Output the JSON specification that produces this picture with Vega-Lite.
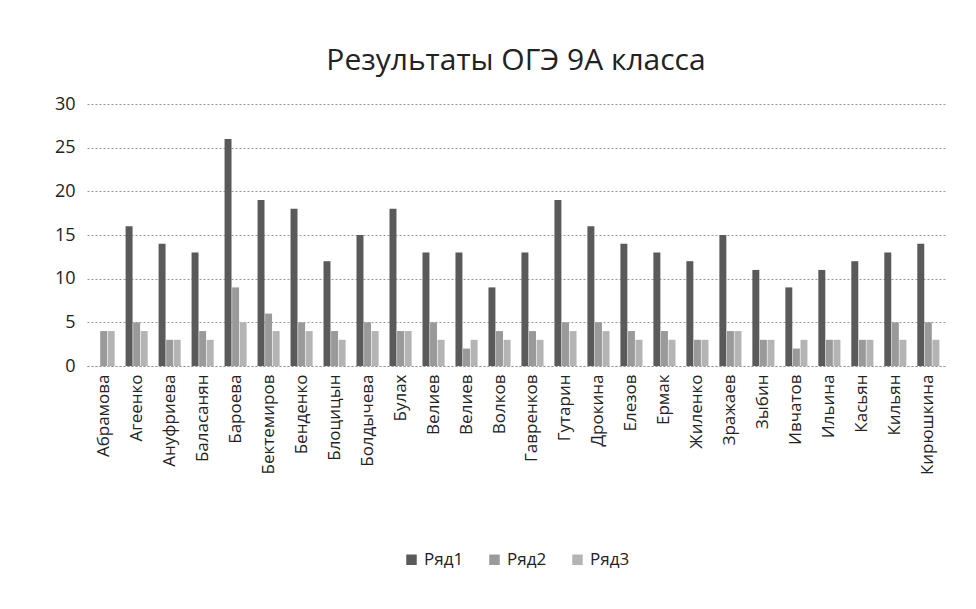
{
  "$schema": "https://vega.github.io/schema/vega-lite/v6.json",
  "width": 858,
  "height": 262,
  "padding": {"left": 54, "top": 46, "right": 10, "bottom": 10},
  "background": "white",
  "title": {
    "text": "Результаты ОГЭ 9А класса",
    "font": "Open Sans",
    "fontSize": 30,
    "fontWeight": "normal",
    "color": "#222",
    "offset": 19,
    "anchor": "middle"
  },
  "data": {
    "values": [
      {"name": "Абрамова", "series": "Ряд1", "value": 0},
      {"name": "Абрамова", "series": "Ряд2", "value": 4},
      {"name": "Абрамова", "series": "Ряд3", "value": 4},
      {"name": "Агеенко", "series": "Ряд1", "value": 16},
      {"name": "Агеенко", "series": "Ряд2", "value": 5},
      {"name": "Агеенко", "series": "Ряд3", "value": 4},
      {"name": "Ануфриева", "series": "Ряд1", "value": 14},
      {"name": "Ануфриева", "series": "Ряд2", "value": 3},
      {"name": "Ануфриева", "series": "Ряд3", "value": 3},
      {"name": "Баласанян", "series": "Ряд1", "value": 13},
      {"name": "Баласанян", "series": "Ряд2", "value": 4},
      {"name": "Баласанян", "series": "Ряд3", "value": 3},
      {"name": "Бароева", "series": "Ряд1", "value": 26},
      {"name": "Бароева", "series": "Ряд2", "value": 9},
      {"name": "Бароева", "series": "Ряд3", "value": 5},
      {"name": "Бектемиров", "series": "Ряд1", "value": 19},
      {"name": "Бектемиров", "series": "Ряд2", "value": 6},
      {"name": "Бектемиров", "series": "Ряд3", "value": 4},
      {"name": "Бенденко", "series": "Ряд1", "value": 18},
      {"name": "Бенденко", "series": "Ряд2", "value": 5},
      {"name": "Бенденко", "series": "Ряд3", "value": 4},
      {"name": "Блоцицын", "series": "Ряд1", "value": 12},
      {"name": "Блоцицын", "series": "Ряд2", "value": 4},
      {"name": "Блоцицын", "series": "Ряд3", "value": 3},
      {"name": "Болдычева", "series": "Ряд1", "value": 15},
      {"name": "Болдычева", "series": "Ряд2", "value": 5},
      {"name": "Болдычева", "series": "Ряд3", "value": 4},
      {"name": "Булах", "series": "Ряд1", "value": 18},
      {"name": "Булах", "series": "Ряд2", "value": 4},
      {"name": "Булах", "series": "Ряд3", "value": 4},
      {"name": "Велиев", "series": "Ряд1", "value": 13},
      {"name": "Велиев", "series": "Ряд2", "value": 5},
      {"name": "Велиев", "series": "Ряд3", "value": 3},
      {"name": "Велиев ", "series": "Ряд1", "value": 13},
      {"name": "Велиев ", "series": "Ряд2", "value": 2},
      {"name": "Велиев ", "series": "Ряд3", "value": 3},
      {"name": "Волков", "series": "Ряд1", "value": 9},
      {"name": "Волков", "series": "Ряд2", "value": 4},
      {"name": "Волков", "series": "Ряд3", "value": 3},
      {"name": "Гавренков", "series": "Ряд1", "value": 13},
      {"name": "Гавренков", "series": "Ряд2", "value": 4},
      {"name": "Гавренков", "series": "Ряд3", "value": 3},
      {"name": "Гутарин", "series": "Ряд1", "value": 19},
      {"name": "Гутарин", "series": "Ряд2", "value": 5},
      {"name": "Гутарин", "series": "Ряд3", "value": 4},
      {"name": "Дрокина", "series": "Ряд1", "value": 16},
      {"name": "Дрокина", "series": "Ряд2", "value": 5},
      {"name": "Дрокина", "series": "Ряд3", "value": 4},
      {"name": "Елезов", "series": "Ряд1", "value": 14},
      {"name": "Елезов", "series": "Ряд2", "value": 4},
      {"name": "Елезов", "series": "Ряд3", "value": 3},
      {"name": "Ермак", "series": "Ряд1", "value": 13},
      {"name": "Ермак", "series": "Ряд2", "value": 4},
      {"name": "Ермак", "series": "Ряд3", "value": 3},
      {"name": "Жиленко", "series": "Ряд1", "value": 12},
      {"name": "Жиленко", "series": "Ряд2", "value": 3},
      {"name": "Жиленко", "series": "Ряд3", "value": 3},
      {"name": "Зражаев", "series": "Ряд1", "value": 15},
      {"name": "Зражаев", "series": "Ряд2", "value": 4},
      {"name": "Зражаев", "series": "Ряд3", "value": 4},
      {"name": "Зыбин", "series": "Ряд1", "value": 11},
      {"name": "Зыбин", "series": "Ряд2", "value": 3},
      {"name": "Зыбин", "series": "Ряд3", "value": 3},
      {"name": "Ивчатов", "series": "Ряд1", "value": 9},
      {"name": "Ивчатов", "series": "Ряд2", "value": 2},
      {"name": "Ивчатов", "series": "Ряд3", "value": 3},
      {"name": "Ильина", "series": "Ряд1", "value": 11},
      {"name": "Ильина", "series": "Ряд2", "value": 3},
      {"name": "Ильина", "series": "Ряд3", "value": 3},
      {"name": "Касьян", "series": "Ряд1", "value": 12},
      {"name": "Касьян", "series": "Ряд2", "value": 3},
      {"name": "Касьян", "series": "Ряд3", "value": 3},
      {"name": "Кильян", "series": "Ряд1", "value": 13},
      {"name": "Кильян", "series": "Ряд2", "value": 5},
      {"name": "Кильян", "series": "Ряд3", "value": 3},
      {"name": "Кирюшкина", "series": "Ряд1", "value": 14},
      {"name": "Кирюшкина", "series": "Ряд2", "value": 5},
      {"name": "Кирюшкина", "series": "Ряд3", "value": 3}
    ]
  },
  "mark": {"type": "bar"},
  "encoding": {
    "x": {
      "field": "name",
      "type": "nominal",
      "sort": null,
      "scale": {"paddingInner": 0.33, "paddingOuter": 0.17},
      "axis": {
        "title": null,
        "labelAngle": -90,
        "labelFont": "Open Sans",
        "labelFontSize": 17,
        "labelColor": "#222",
        "labelPadding": 8,
        "ticks": false,
        "domain": true,
        "domainColor": "#999",
        "domainDash": [2, 2],
        "domainWidth": 1.2
      }
    },
    "xOffset": {"field": "series", "type": "nominal", "scale": {"paddingInner": 0.08}},
    "y": {
      "field": "value",
      "type": "quantitative",
      "scale": {"domain": [0, 30]},
      "axis": {
        "title": null,
        "values": [0, 5, 10, 15, 20, 25, 30],
        "labelFont": "Open Sans",
        "labelFontSize": 18,
        "labelColor": "#222",
        "labelPadding": 12,
        "ticks": false,
        "domain": false,
        "grid": true,
        "gridColor": "#999",
        "gridDash": [2, 2],
        "gridWidth": 1.2
      }
    },
    "color": {
      "field": "series",
      "type": "nominal",
      "scale": {"domain": ["Ряд1", "Ряд2", "Ряд3"], "range": ["#5a5a5a", "#9a9a9a", "#b4b4b4"]},
      "legend": {
        "title": null,
        "orient": "bottom",
        "direction": "horizontal",
        "symbolType": "square",
        "symbolSize": 110,
        "labelFont": "Open Sans",
        "labelFontSize": 17,
        "labelColor": "#222",
        "columnPadding": 22,
        "offset": 76
      }
    }
  },
  "config": {
    "view": {"stroke": null},
    "legend": {"layout": {"bottom": {"anchor": "middle"}}}
  }
}
